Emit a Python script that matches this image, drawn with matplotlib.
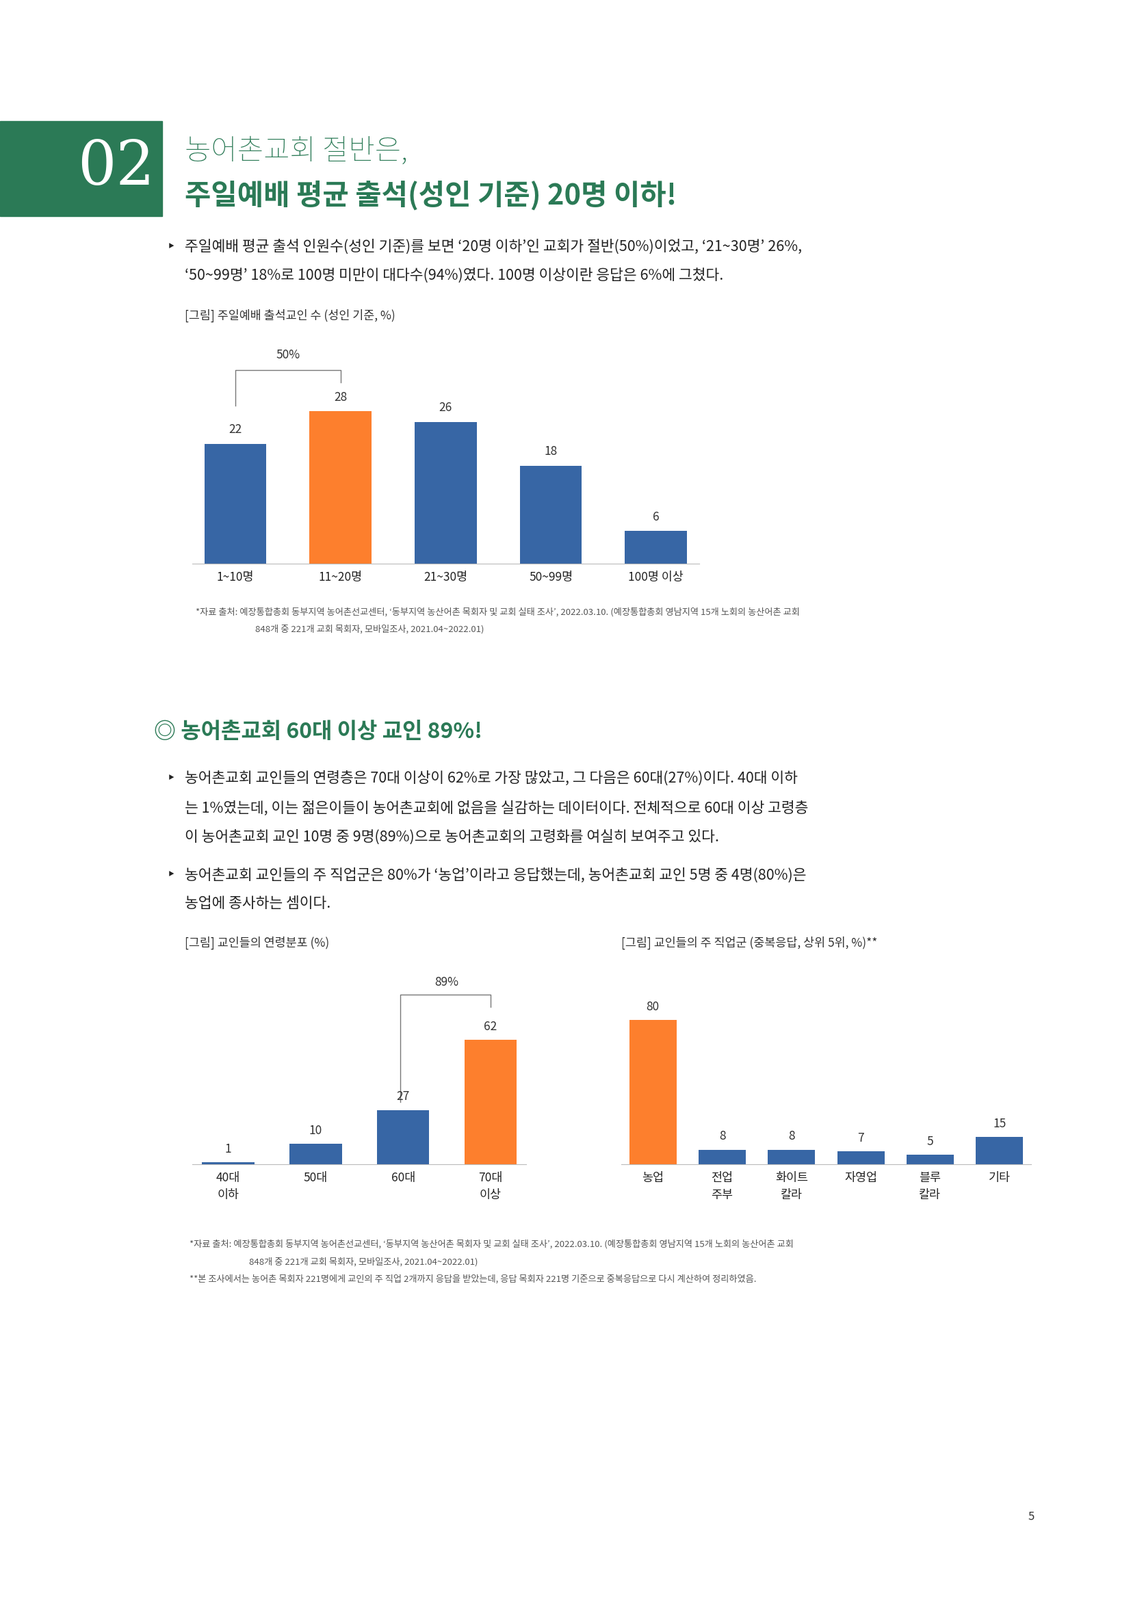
import matplotlib
matplotlib.use("Agg")
import matplotlib.pyplot as plt

plt.rcParams["font.family"] = ["Noto Sans CJK KR", "Noto Sans CJK JP", "Noto Sans CJK SC", "DejaVu Sans"]

# data
att_cats = ["1~10명", "11~20명", "21~30명", "50~99명", "100명 이상"]
att_vals = [22, 28, 26, 18, 6]
age_cats = ["40대\n이하", "50대", "60대", "70대\n이상"]
age_vals = [1, 10, 27, 62]
job_cats = ["농업", "전업\n주부", "화이트\n칼라", "자영업", "블루\n칼라", "기타"]
job_vals = [80, 8, 8, 7, 5, 15]

BLUE = "#3766a5"
ORANGE = "#fd7f2d"
GREEN = "#2b7a56"
W, H = 1100.0, 1556.0


def fx(x):
    return x / W


def fy(y):
    return 1 - y / H


def axes_at(fig, x0, x1, ytop, ybase):
    return fig.add_axes([fx(x0), fy(ybase), fx(x1) - fx(x0), (ybase - ytop) / H])


def bar_chart(ax, cats, vals, colors, width, ymax, pad, fs=12.5):
    xs = range(len(cats))
    ax.bar(xs, vals, width=width, color=colors)
    for x, v in zip(xs, vals):
        ax.text(x, v + ymax * 0.035, str(v), ha="center", va="bottom", fontsize=fs, color="#333333")
    ax.set_ylim(0, ymax)
    ax.set_xlim(-pad, len(cats) - 1 + pad)
    ax.set_xticks(list(xs))
    ax.set_xticklabels(cats, fontsize=fs, color="#222222", linespacing=1.5)
    ax.tick_params(axis="x", length=0, pad=8)
    ax.set_yticks([])
    for s in ["top", "right", "left"]:
        ax.spines[s].set_visible(False)
    ax.spines["bottom"].set_color("#bbbbbb")


fig = plt.figure(figsize=(16.53, 23.39), dpi=100)

# header
fig.patches.append(plt.Rectangle((0, fy(210)), fx(158), (210 - 118) / H,
                                 transform=fig.transFigure, color=GREEN))
fig.text(fx(113), fy(163), "02", color="white", fontsize=64, family="DejaVu Serif",
         ha="center", va="center")
fig.text(fx(180), fy(147), "농어촌교회 절반은,", color=GREEN, fontsize=30, va="center", weight="light")
fig.text(fx(180), fy(190), "주일예배 평균 출석(성인 기준) 20명 이하!", color=GREEN, fontsize=30,
         va="center", weight="bold")

body = dict(fontsize=15.5, color="#222222", va="center")
fig.text(fx(162), fy(240), "‣", **body)
fig.text(fx(180), fy(240), "주일예배 평균 출석 인원수(성인 기준)를 보면 ‘20명 이하’인 교회가 절반(50%)이었고, ‘21~30명’ 26%,", **body)
fig.text(fx(180), fy(268), "‘50~99명’ 18%로 100명 미만이 대다수(94%)였다. 100명 이상이란 응답은 6%에 그쳤다.", **body)
fig.text(fx(180), fy(307), "[그림] 주일예배 출석교인 수 (성인 기준, %)", fontsize=12.5, color="#333333", va="center")

# chart 1
ax1 = axes_at(fig, 187, 680, 330, 548)
c1 = [ORANGE if i == 1 else BLUE for i in range(len(att_vals))]
bar_chart(ax1, att_cats, att_vals, c1, 0.59, 41.2, 0.41)
ax1.plot([0, 0, 1, 1], [att_vals[0] + 7, 35.5, 35.5, att_vals[1] + 5.3], color="#777777", lw=1)
ax1.text(0.5, 37.2, "50%", ha="center", va="bottom", fontsize=12.5, color="#333333")

foot = dict(fontsize=9.5, color="#555555", va="center")
fig.text(fx(190), fy(595), "*자료 출처: 예장통합총회 동부지역 농어촌선교센터, ‘동부지역 농산어촌 목회자 및 교회 실태 조사’, 2022.03.10. (예장통합총회 영남지역 15개 노회의 농산어촌 교회", **foot)
fig.text(fx(248), fy(612), "848개 중 221개 교회 목회자, 모바일조사, 2021.04~2022.01)", **foot)

# section 2
fig.text(fx(150), fy(712), "◎ 농어촌교회 60대 이상 교인 89%!", color=GREEN, fontsize=23, weight="bold", va="center")
fig.text(fx(162), fy(757), "‣", **body)
fig.text(fx(180), fy(757), "농어촌교회 교인들의 연령층은 70대 이상이 62%로 가장 많았고, 그 다음은 60대(27%)이다. 40대 이하", **body)
fig.text(fx(180), fy(786), "는 1%였는데, 이는 젊은이들이 농어촌교회에 없음을 실감하는 데이터이다. 전체적으로 60대 이상 고령층", **body)
fig.text(fx(180), fy(814), "이 농어촌교회 교인 10명 중 9명(89%)으로 농어촌교회의 고령화를 여실히 보여주고 있다.", **body)
fig.text(fx(162), fy(851), "‣", **body)
fig.text(fx(180), fy(851), "농어촌교회 교인들의 주 직업군은 80%가 ‘농업’이라고 응답했는데, 농어촌교회 교인 5명 중 4명(80%)은", **body)
fig.text(fx(180), fy(879), "농업에 종사하는 셈이다.", **body)

fig.text(fx(180), fy(917), "[그림] 교인들의 연령분포 (%)", fontsize=12.5, color="#333333", va="center")
fig.text(fx(604), fy(917), "[그림] 교인들의 주 직업군 (중복응답, 상위 5위, %)**", fontsize=12.5, color="#333333", va="center")

# chart 2 left
ax2 = axes_at(fig, 187, 512, 940, 1132)
c2 = [ORANGE if i == 3 else BLUE for i in range(len(age_vals))]
bar_chart(ax2, age_cats, age_vals, c2, 0.6, 98.5, 0.41)
ax2.plot([-0.03, -0.03, 1, 1], [age_vals[2] + 4, 84.6, 84.6, 78.5], transform=ax2.transData,
         color="#777777", lw=1) if False else None
ax2.plot([1.97, 1.97, 3, 3], [age_vals[2] + 4, 84.6, 84.6, 78.5], color="#777777", lw=1)
ax2.text(2.5, 87.5, "89%", ha="center", va="bottom", fontsize=12.5, color="#333333")

# chart 2 right
ax3 = axes_at(fig, 604, 1003, 940, 1132)
c3 = [ORANGE if i == 0 else BLUE for i in range(len(job_vals))]
bar_chart(ax3, job_cats, job_vals, c3, 0.68, 109.7, 0.46)

fig.text(fx(184), fy(1210), "*자료 출처: 예장통합총회 동부지역 농어촌선교센터, ‘동부지역 농산어촌 목회자 및 교회 실태 조사’, 2022.03.10. (예장통합총회 영남지역 15개 노회의 농산어촌 교회", **foot)
fig.text(fx(242), fy(1227), "848개 중 221개 교회 목회자, 모바일조사, 2021.04~2022.01)", **foot)
fig.text(fx(184), fy(1244), "**본 조사에서는 농어촌 목회자 221명에게 교인의 주 직업 2개까지 응답을 받았는데, 응답 목회자 221명 기준으로 중복응답으로 다시 계산하여 정리하였음.", **foot)

fig.text(fx(1003), fy(1475), "5", fontsize=12, color="#333333", ha="center", va="center")

fig.savefig("out.png", dpi=100)
